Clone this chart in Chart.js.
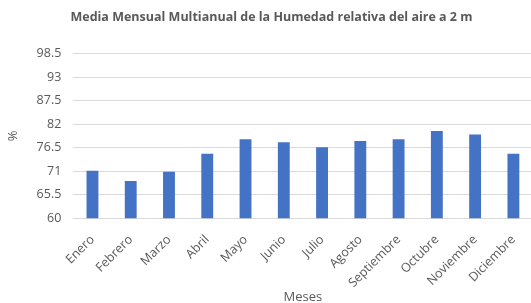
<!DOCTYPE html>
<html><head><meta charset="utf-8">
<script src="https://cdn.jsdelivr.net/npm/chart.js@4"></script>
<style>
html,body{margin:0;padding:0;background:#fff;overflow:hidden;}
canvas{display:block;}
</style></head>
<body><canvas id="c" width="538" height="303" style="width:538px;height:303px"></canvas>
<script>
const months = ["Enero","Febrero","Marzo","Abril","Mayo","Junio","Julio","Agosto","Septiembre","Octubre","Noviembre","Diciembre"];
const humidity = [71.1, 68.7, 70.9, 75.1, 78.5, 77.8, 76.6, 78.1, 78.5, 80.4, 79.6, 75.1];
const yTicks = [60, 65.5, 71, 76.5, 82, 87.5, 93, 98.5];
const titleText = "Media Mensual Multianual de la Humedad relativa del aire a 2 m";
const fontFam = "'Open Sans', 'Liberation Sans', sans-serif";
const grey = "#595959";
new Chart(document.getElementById('c'), {
  type: 'bar',
  data: { labels: months, datasets: [{ data: humidity, backgroundColor: '#4472C4', categoryPercentage: 1, barPercentage: 0.31 }] },
  options: {
    responsive: false, animation: false,
    layout: { padding: { top: 6, left: 5, right: 0, bottom: 0 } },
    plugins: {
      legend: { display: false },
      tooltip: { enabled: false },
      title: { display: true, text: titleText, color: grey, font: { family: fontFam, size: 12.5, weight: 'bold' }, padding: { top: 4, bottom: 28.7 } }
    },
    scales: {
      x: {
        grid: { display: false, drawTicks: false },
        border: { color: '#d9d9d9' },
        ticks: { color: grey, font: { family: fontFam, size: 12.5 }, maxRotation: 45, minRotation: 45, padding: 14 },
        title: { display: true, text: 'Meses', color: grey, font: { family: fontFam, size: 13 }, padding: { top: -15.2, bottom: -2 } }
      },
      y: {
        min: yTicks[0], max: yTicks[yTicks.length-1],
        afterBuildTicks: (axis) => { axis.ticks = yTicks.map(v => ({ value: v })); },
        grid: { color: '#d9d9d9', drawTicks: false },
        border: { display: false },
        ticks: { color: grey, font: { family: fontFam, size: 12.5 }, padding: 12 },
        title: { display: true, text: '%', color: grey, font: { family: fontFam, size: 13 }, padding: { top: 0, bottom: 4 } }
      }
    }
  }
});
</script></body></html>
